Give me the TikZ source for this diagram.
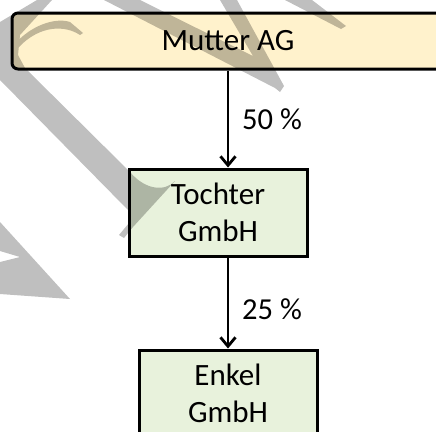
\documentclass[tikz,border=0pt]{standalone}
\usepackage{fontspec}
\setmainfont{Carlito}
\usetikzlibrary{arrows.meta}
\definecolor{mutterfill}{HTML}{FFF2CC}
\definecolor{kindfill}{HTML}{E8F2DC}
\begin{document}
\begin{tikzpicture}[x=1pt,y=-1pt,
  box/.style={draw=black, line width=3pt, align=center, inner sep=0pt,
    font=\fontsize{31}{36.5}\selectfont},
  company/.style={box, fill=kindfill, minimum width=178pt, minimum height=87pt},
  arr/.style={line width=2.8pt, -{Straight Barb[length=9pt,width=15pt]}},
  pct/.style={anchor=base west, inner sep=0pt, font=\fontsize{30.5}{36}\selectfont},
  wm/.style={fill=black, fill opacity=0.25, draw=none}]
\useasboundingbox (0,0) rectangle (436,431);
\clip (0,0) rectangle (436,431);
\node[box, fill=mutterfill, rounded corners=6pt, minimum width=432pt, minimum height=56pt] (mutter) at (228,41) {Mutter AG};
\node[company] (tochter) at (218,212.5) {Tochter\\GmbH};
\node[company] (enkel) at (228,393.5) {Enkel\\GmbH};
\draw[arr] (mutter.south) -- (mutter.south |- tochter.north);
\draw[arr] (enkel.north |- tochter.south) -- (enkel.north);
\node[pct] (p50) at (242,129) {50 \%};
\node[pct] (p25) at (242,319) {25 \%};
% watermark
\fill[wm]
  (37,0) -- (52,0) -- (20,35) -- (18,55) -- (25,68) -- (130,172)
    .. controls (145,190) and (165,192) .. (175,181)
    -- (133,227) -- (124,238) -- (119,235) -- (129,223) -- (128,210)
    -- (0,80) -- (0,22) -- cycle
  (15,44) .. controls (30,26) and (55,17) .. (70,22) -- (83,33) -- (80,35)
    .. controls (65,25) and (40,25) .. (19,47) -- cycle
  (104,0) -- (140,0) -- (253,56) -- (220,0) -- (237,0) -- (284,86)
    -- (280,92) -- (275,88) -- cycle
  (285,0) -- (312,0) -- (346,26) -- (341,29) -- cycle
  (0,222) -- (70,299) -- (0,294) -- (0,262) -- (20,257) -- (0,251) -- cycle;
\end{tikzpicture}
\end{document}
